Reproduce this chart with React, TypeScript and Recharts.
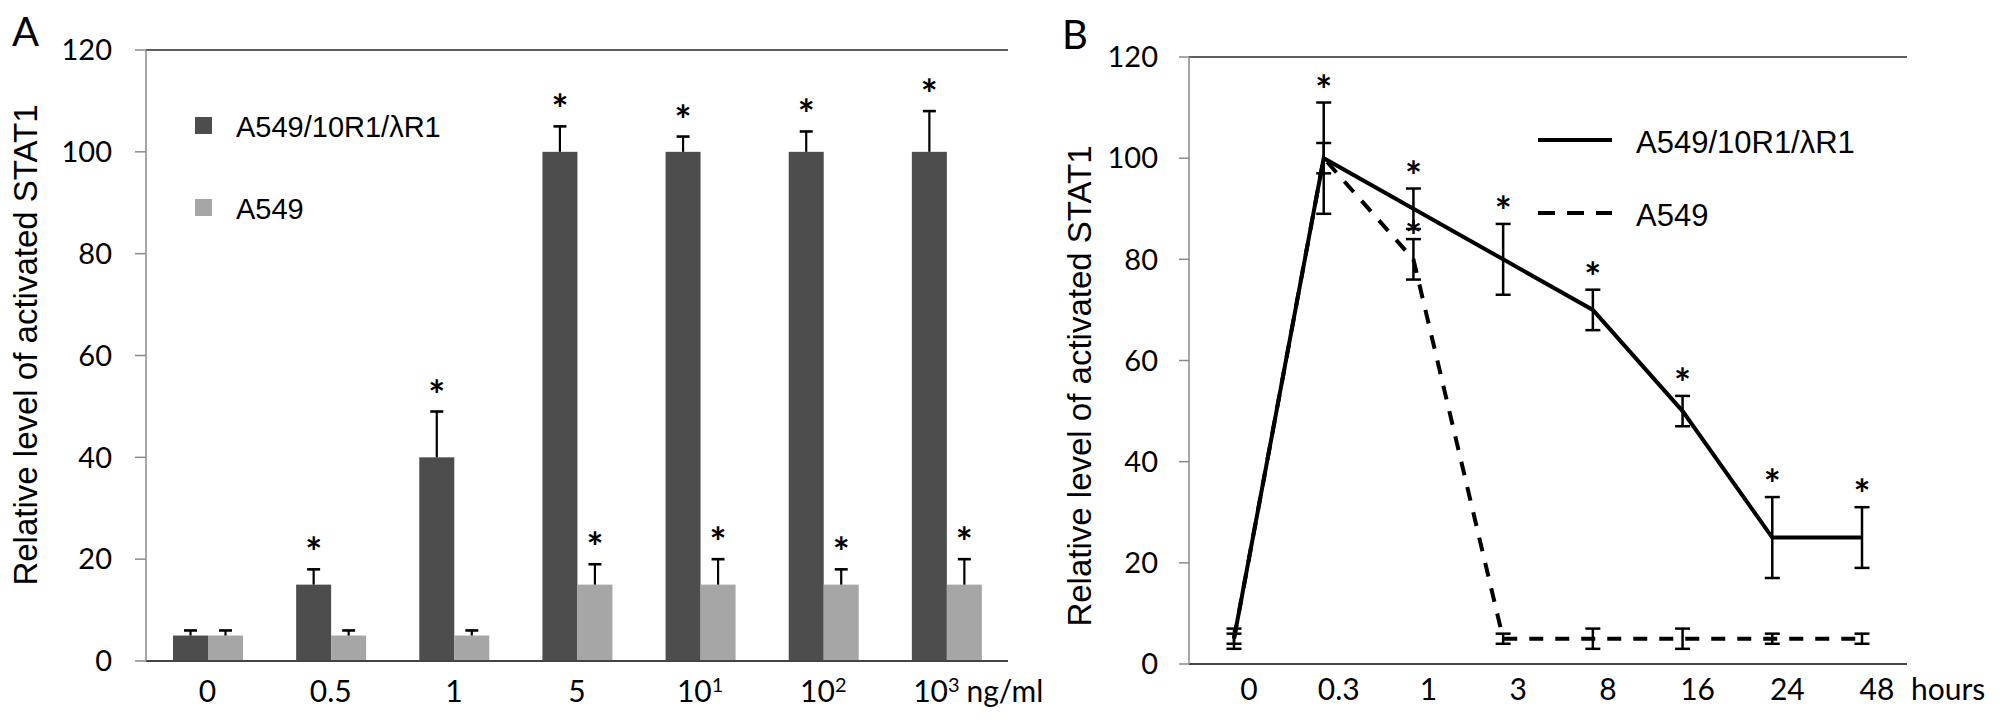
import React from 'react';
import {
  BarChart,
  Bar,
  LineChart,
  Line,
  XAxis,
  YAxis,
  ErrorBar,
  Legend,
  ReferenceLine,
} from 'recharts';

// Panel A: dose response
const doseLabels = ['0', '0.5', '1', '5', '10¹', '10²', '10³'];
const doseUnit = 'ng/ml';
const r1Values = [5, 15, 40, 100, 100, 100, 100];
const r1Errors = [1, 3, 9, 5, 3, 4, 8];
const r1Signif = [false, true, true, true, true, true, true];
const wtValues = [5, 5, 5, 15, 15, 15, 15];
const wtErrors = [1, 1, 1, 4, 5, 3, 5];
const wtSignif = [false, false, false, true, true, true, true];

// Panel B: time course
const timeLabels = ['0', '0.3', '1', '3', '8', '16', '24', '48'];
const timeUnit = 'hours';
const solidValues = [5, 100, 90, 80, 70, 50, 25, 25];
const solidErrors = [2, 11, 4, 7, 4, 3, 8, 6];
const solidSignif = [false, true, true, true, true, true, true, true];
const dashValues = [5, 100, 80, 5, 5, 5, 5, 5];
const dashErrors = [1, 3, 4, 1, 2, 2, 1, 1];
const dashSignif = [false, false, true, false, false, false, false, false];

const yTicks = [0, 20, 40, 60, 80, 100, 120];
const seriesNames = ['A549/10R1/λR1', 'A549'];
const yTitle = 'Relative level of activated STAT1';

const DARK = '#4d4d4d';
const LIGHT = '#a6a6a6';
const AXIS_GRAY = '#8a8a8a';
const AXIS_DARK = '#444';
const FRAME = '#2a2a2a';
const TICK_FONT = 'Lato, "Open Sans", sans-serif';
const TEXT_FONT = '"Liberation Sans", Arial, sans-serif';

const barRows = doseLabels.map((d, i) => ({
  dose: d,
  r1: r1Values[i],
  r1Err: r1Errors[i],
  r1Sig: r1Signif[i],
  wt: wtValues[i],
  wtErr: wtErrors[i],
  wtSig: wtSignif[i],
}));

const lineRows = timeLabels.map((t, i) => ({
  t,
  solid: solidValues[i],
  solidErr: solidErrors[i],
  solidStar: solidSignif[i] ? solidValues[i] + solidErrors[i] : null,
  dash: dashValues[i],
  dashErr: dashErrors[i],
  dashStar: dashSignif[i] ? dashValues[i] + dashErrors[i] : null,
}));

const supMap: Record<string, string> = { '¹': '1', '²': '2', '³': '3' };

const Star = ({ x, y }: { x: number; y: number }) => (
  <text x={x} y={y} textAnchor="middle" fontSize={40} fontWeight={700} fontFamily={TICK_FONT} fill="#000">
    *
  </text>
);

// bar + upward-only error whisker + significance star
const makeBarShape = (valKey: string, errKey: string, sigKey: string) => (props: any) => {
  const { x, y, width, height, fill, payload } = props;
  const v = payload[valKey];
  const perUnit = v ? height / v : 0;
  const cx = x + width / 2;
  const top = y - payload[errKey] * perUnit;
  return (
    <g>
      <rect x={x} y={y} width={width} height={height} fill={fill} />
      <line x1={cx} x2={cx} y1={y} y2={top} stroke="#000" strokeWidth={2.2} />
      <line x1={cx - 6.5} x2={cx + 6.5} y1={top} y2={top} stroke="#000" strokeWidth={2.6} />
      {payload[sigKey] && <Star x={cx} y={top - 2} />}
    </g>
  );
};

const DoseTick = ({ x, y, payload, index }: any) => {
  const label: string = payload.value;
  const last = index === doseLabels.length - 1;
  const sup = label.slice(-1);
  const hasSup = supMap[sup] !== undefined;
  const cx = last ? x - 10 : x;
  return (
    <g>
      <text x={cx} y={y + 41} textAnchor="middle" fontSize={30} fontFamily={TICK_FONT} fill="#000">
        {hasSup ? (
          <>
            <tspan>{label.slice(0, -1)}</tspan>
            <tspan dy={-10} fontSize={20}>
              {supMap[sup]}
            </tspan>
          </>
        ) : (
          label
        )}
      </text>
      {last && (
        <text x={x + 20} y={y + 41} fontSize={30} fontFamily={TICK_FONT} fill="#000">
          {doseUnit}
        </text>
      )}
    </g>
  );
};

const TimeTick = ({ x, y, payload, index }: any) => {
  const last = index === timeLabels.length - 1;
  return (
    <g>
      <text x={x + 15} y={y + 36} textAnchor="middle" fontSize={30} fontFamily={TICK_FONT} fill="#000">
        {payload.value}
      </text>
      {last && (
        <text x={x + 49} y={y + 36} fontSize={30} fontFamily={TICK_FONT} fill="#000">
          {timeUnit}
        </text>
      )}
    </g>
  );
};

const starDot = (dy: number) => (props: any) => {
  const { cx, cy, value, index } = props;
  if (cy == null || value == null || Number.isNaN(cy)) return <g key={index} />;
  return (
    <g key={index}>
      <Star x={cx} y={cy + dy} />
    </g>
  );
};

// only the named series, in the reference's order
const ordered = (payload: any[]) =>
  (payload || [])
    .filter((p) => seriesNames.includes(p.value))
    .sort((a, b) => seriesNames.indexOf(a.value) - seriesNames.indexOf(b.value));

const BarLegend = ({ payload }: any) => (
  <svg width={360} height={130} style={{ display: 'block', overflow: 'visible' }}>
    {ordered(payload).map((p: any, i: number) => (
      <g key={i} transform={`translate(0, ${i * 82})`}>
        <rect x={0} y={0} width={17} height={17} fill={p.color} />
        <text x={41} y={20} fontSize={29} fontFamily={TEXT_FONT} fill="#000">
          {p.value}
        </text>
      </g>
    ))}
  </svg>
);

const LineLegend = ({ payload }: any) => (
  <svg width={380} height={130} style={{ display: 'block', overflow: 'visible' }}>
    {ordered(payload).map((p: any, i: number) => (
      <g key={i} transform={`translate(0, ${i * 73})`}>
        <line
          x1={0}
          x2={74}
          y1={20}
          y2={20}
          stroke="#000"
          strokeWidth={4}
          strokeDasharray={p.dataKey === 'dash' ? '17 12' : undefined}
        />
        <text x={98} y={33} fontSize={31} fontFamily={TEXT_FONT} fill="#000">
          {p.value}
        </text>
      </g>
    ))}
  </svg>
);

const App: React.FC = () => (
  <div style={{ position: 'absolute', left: 0, top: 0, width: 2008, height: 723, background: '#fff' }}>
    <div style={{ position: 'absolute', left: 0, top: 0 }}>
      <BarChart
        width={1100}
        height={723}
        data={barRows}
        margin={{ top: 50, right: 92, bottom: 0, left: 0 }}
        barSize={35}
        barGap={0}
      >
        <XAxis
          dataKey="dose"
          height={62}
          tickLine={false}
          tickSize={0}
          tickMargin={0}
          axisLine={{ stroke: AXIS_DARK, strokeWidth: 2 }}
          tick={<DoseTick />}
          interval={0}
        />
        <YAxis
          width={146}
          domain={[0, 120]}
          ticks={yTicks}
          tickSize={11}
          tickMargin={23}
          axisLine={{ stroke: AXIS_GRAY, strokeWidth: 1.5 }}
          tickLine={{ stroke: AXIS_GRAY, strokeWidth: 1.5 }}
          tick={{ fill: '#000', fontSize: 29, fontFamily: TICK_FONT }}
        />
        <YAxis
          yAxisId="frame"
          orientation="right"
          width={0}
          domain={[0, 120]}
          tick={false}
          tickLine={false}
          axisLine={{ stroke: FRAME, strokeWidth: 1.5 }}
        />
        <ReferenceLine y={120} stroke={FRAME} strokeWidth={1.5} />
        <Legend
          layout="vertical"
          align="center"
          verticalAlign="middle"
          content={<BarLegend />}
          wrapperStyle={{ left: 195, top: 117 }}
        />
        <Bar
          dataKey="r1"
          name={seriesNames[0]}
          fill={DARK}
          shape={makeBarShape('r1', 'r1Err', 'r1Sig')}
          isAnimationActive={false}
        />
        <Bar
          dataKey="wt"
          name={seriesNames[1]}
          fill={LIGHT}
          shape={makeBarShape('wt', 'wtErr', 'wtSig')}
          isAnimationActive={false}
        />
      </BarChart>
    </div>

    <div style={{ position: 'absolute', left: 1030, top: 0 }}>
      <LineChart
        width={978}
        height={723}
        data={lineRows}
        margin={{ top: 57, right: 101, bottom: 0, left: 0 }}
      >
        <XAxis
          dataKey="t"
          height={59}
          padding={{ left: 45, right: 45 }}
          tickLine={false}
          tickSize={0}
          tickMargin={0}
          axisLine={{ stroke: AXIS_DARK, strokeWidth: 2 }}
          tick={<TimeTick />}
          interval={0}
        />
        <YAxis
          width={159}
          domain={[0, 120]}
          ticks={yTicks}
          tickSize={10}
          tickMargin={21}
          axisLine={{ stroke: AXIS_GRAY, strokeWidth: 1.5 }}
          tickLine={{ stroke: AXIS_GRAY, strokeWidth: 1.5 }}
          tick={{ fill: '#000', fontSize: 29, fontFamily: TICK_FONT }}
        />
        <YAxis
          yAxisId="frame"
          orientation="right"
          width={0}
          domain={[0, 120]}
          tick={false}
          tickLine={false}
          axisLine={{ stroke: FRAME, strokeWidth: 1.5 }}
        />
        <ReferenceLine y={120} stroke={FRAME} strokeWidth={1.5} />
        <Legend
          layout="vertical"
          align="center"
          verticalAlign="middle"
          content={<LineLegend />}
          wrapperStyle={{ left: 508, top: 120 }}
        />
        <Line
          type="linear"
          dataKey="solid"
          name={seriesNames[0]}
          stroke="#000"
          strokeWidth={4}
          dot={false}
          activeDot={false}
          isAnimationActive={false}
        >
          <ErrorBar dataKey="solidErr" direction="y" width={7.5} stroke="#000" strokeWidth={2.5} />
        </Line>
        <Line
          type="linear"
          dataKey="dash"
          name={seriesNames[1]}
          stroke="#000"
          strokeWidth={4}
          strokeDasharray="14 12"
          dot={false}
          activeDot={false}
          isAnimationActive={false}
        >
          <ErrorBar dataKey="dashErr" direction="y" width={7.5} stroke="#000" strokeWidth={2.5} />
        </Line>
        <Line
          dataKey="solidStar"
          stroke="none"
          legendType="none"
          dot={starDot(2)}
          activeDot={false}
          isAnimationActive={false}
        />
        <Line
          dataKey="dashStar"
          stroke="none"
          legendType="none"
          dot={starDot(12)}
          activeDot={false}
          isAnimationActive={false}
        />
      </LineChart>
    </div>

    <svg
      width={2008}
      height={723}
      style={{ position: 'absolute', left: 0, top: 0, pointerEvents: 'none' }}
    >
      <text x={12} y={46} fontSize={40} fontFamily={TICK_FONT} fill="#000">
        A
      </text>
      <text x={1062} y={49} fontSize={40} fontFamily={TICK_FONT} fill="#000">
        B
      </text>
      <text
        x={37}
        y={345}
        transform="rotate(-90, 37, 345)"
        textAnchor="middle"
        fontSize={33}
        fontFamily={TEXT_FONT}
        fill="#000"
      >
        {yTitle}
      </text>
      <text
        x={1091}
        y={386}
        transform="rotate(-90, 1091, 386)"
        textAnchor="middle"
        fontSize={33}
        fontFamily={TEXT_FONT}
        fill="#000"
      >
        {yTitle}
      </text>
    </svg>
  </div>
);

export default App;
